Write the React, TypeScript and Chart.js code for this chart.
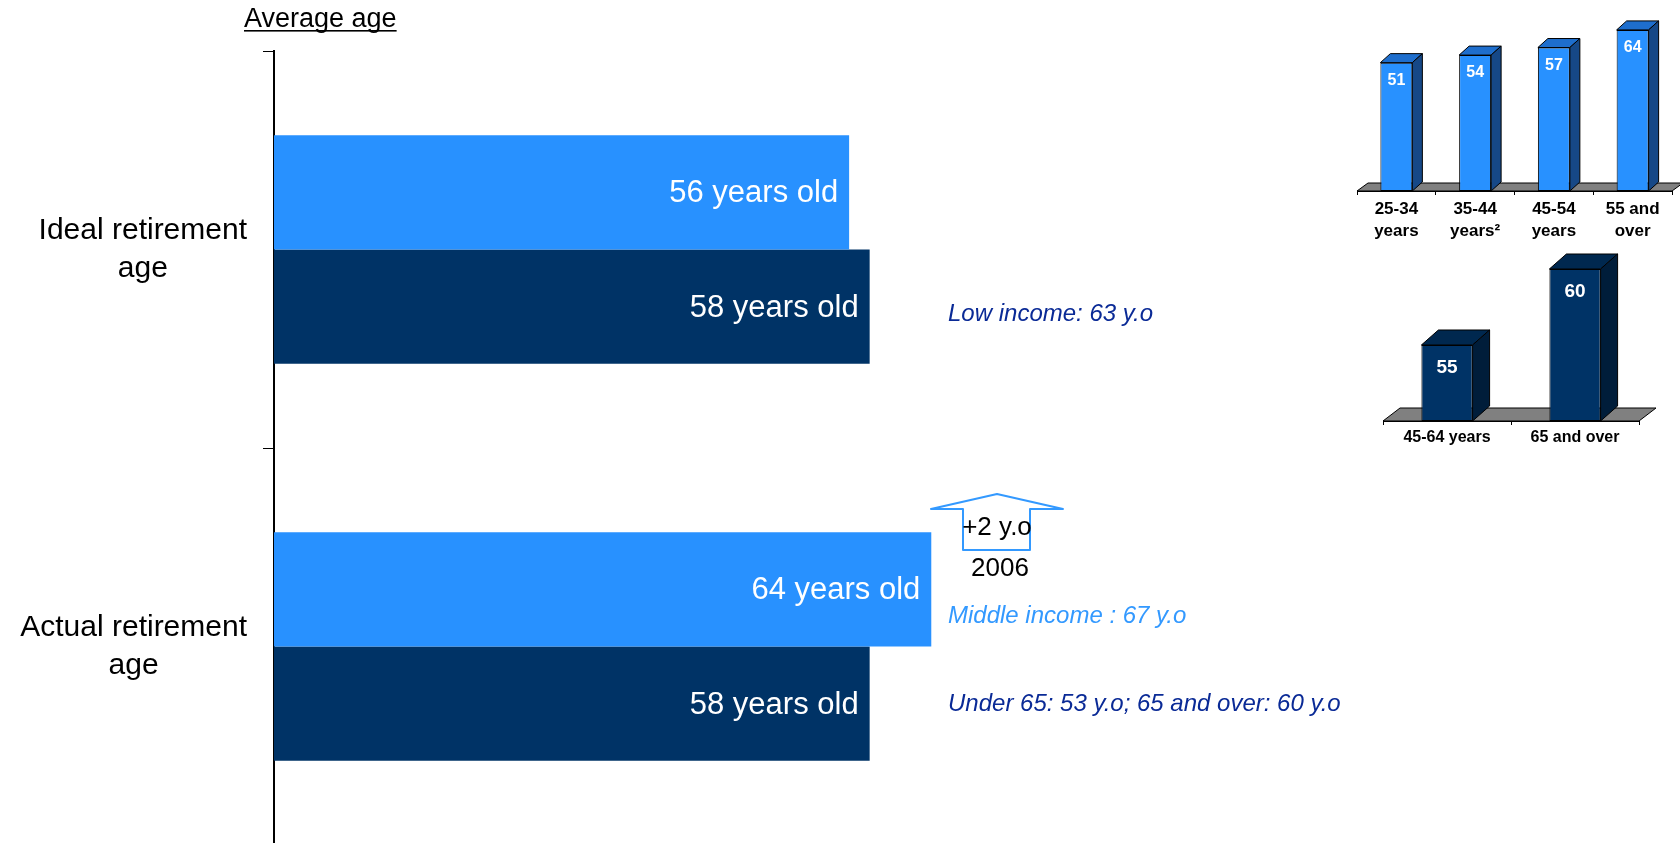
import React, { useEffect, useRef } from "react";
import { Chart, registerables } from "chart.js";

Chart.register(...registerables);

// ---------------- data ----------------
const CATEGORIES: string[][] = [
  ["Ideal retirement", "age"],
  ["Actual retirement", "age"],
];
const SERIES_NAMES = ["Non-retirees", "Retirees"];
const LIGHT_VALUES = [56, 64];
const DARK_VALUES = [58, 58];
const VALUE_SUFFIX = " years old";
const AXIS_TITLE = "Average age";
const NOTES = [
  "Low income: 63 y.o",
  "Middle income : 67 y.o",
  "Under 65: 53 y.o; 65 and over: 60 y.o",
];
const ARROW_TEXT = ["+2 y.o", "2006"];

const AGE_GROUPS: string[][] = [
  ["25-34", "years"],
  ["35-44", "years²"],
  ["45-54", "years"],
  ["55 and", "over"],
];
const AGE_GROUP_VALUES = [51, 54, 57, 64];
const RETIREE_GROUPS = ["45-64 years", "65 and over"];
const RETIREE_GROUP_VALUES = [55, 60];
const RETIREE_AXIS_MIN = 50;

// ---------------- styles ----------------
const FONT = "'Liberation Sans', Arial, sans-serif";
const LIGHT = "#2891FF";
const DARK = "#003366";
const NOTE_DARK = "#0A2A96";
const NOTE_LIGHT = "#3399FF";

Chart.defaults.font.family = FONT;

// ---------------- main chart plugin ----------------
const mainPlugin = {
  id: "mainDecor",
  afterDatasetsDraw(chart: any) {
    const ctx = chart.ctx as CanvasRenderingContext2D;
    ctx.save();
    ctx.font = `31px ${FONT}`;
    ctx.fillStyle = "#fff";
    ctx.textAlign = "right";
    ctx.textBaseline = "alphabetic";
    chart.data.datasets.forEach((ds: any, di: number) => {
      const meta = chart.getDatasetMeta(di);
      meta.data.forEach((el: any, i: number) => {
        ctx.fillText(`${ds.data[i]}${VALUE_SUFFIX}`, el.x - 11, el.y + 10);
      });
    });
    ctx.restore();
  },
  afterDraw(chart: any) {
    const ctx = chart.ctx as CanvasRenderingContext2D;
    const yScale = chart.scales.y;
    const axisX = chart.chartArea.left;
    ctx.save();
    // category labels (block right-aligned, lines centered)
    ctx.font = `30px ${FONT}`;
    ctx.fillStyle = "#000";
    ctx.textAlign = "center";
    ctx.textBaseline = "alphabetic";
    CATEGORIES.forEach((lines, i) => {
      const cy = yScale.getPixelForValue(i);
      const w = Math.max(...lines.map((l) => ctx.measureText(l).width));
      const cx = axisX - 27 - w / 2;
      lines.forEach((l, k) => {
        ctx.fillText(l, cx, cy - 11 + k * 38);
      });
    });

    // axis title underlined
    ctx.font = `27px ${FONT}`;
    ctx.textAlign = "left";
    const tx = 244;
    const ty = 27;
    ctx.fillText(AXIS_TITLE, tx, ty);
    const tw = ctx.measureText(AXIS_TITLE).width;
    ctx.fillRect(tx, ty + 3, tw, 1.6);

    // notes
    ctx.font = `italic 24px ${FONT}`;
    ctx.fillStyle = NOTE_DARK;
    ctx.fillText(NOTES[0], 948, 321);
    ctx.fillStyle = NOTE_LIGHT;
    ctx.fillText(NOTES[1], 948, 623);
    ctx.fillStyle = NOTE_DARK;
    ctx.fillText(NOTES[2], 948, 711);

    // arrow outline
    ctx.beginPath();
    ctx.moveTo(963, 509);
    ctx.lineTo(931, 509);
    ctx.lineTo(997, 494);
    ctx.lineTo(1063, 509);
    ctx.lineTo(1030, 509);
    ctx.lineTo(1030, 550);
    ctx.lineTo(963, 550);
    ctx.closePath();
    ctx.strokeStyle = NOTE_LIGHT;
    ctx.lineWidth = 2;
    ctx.lineJoin = "round";
    ctx.stroke();

    ctx.font = `26px ${FONT}`;
    ctx.fillStyle = "#000";
    ctx.textAlign = "center";
    ctx.fillText(ARROW_TEXT[0], 997, 535);
    ctx.fillText(ARROW_TEXT[1], 1000, 576);
    ctx.restore();
  },
};

// ---------------- 3D bar plugin for small charts ----------------
function make3DPlugin(
  id: string,
  depth: [number, number],
  floorDepth: [number, number],
  topColor: string,
  sideColor: string,
  labelFont: string,
  labelDy: number
) {
  return {
    id,
    beforeDatasetsDraw(chart: any) {
      const ctx = chart.ctx as CanvasRenderingContext2D;
      const { left, right, bottom } = chart.chartArea;
      const [fdx, fdy] = floorDepth;
      ctx.save();
      ctx.beginPath();
      ctx.moveTo(left, bottom);
      ctx.lineTo(right, bottom);
      ctx.lineTo(right + fdx, bottom + fdy);
      ctx.lineTo(left + fdx, bottom + fdy);
      ctx.closePath();
      ctx.fillStyle = "#808080";
      ctx.fill();
      ctx.strokeStyle = "#000";
      ctx.lineWidth = 1;
      ctx.stroke();
      ctx.restore();
    },
    afterDatasetsDraw(chart: any) {
      const ctx = chart.ctx as CanvasRenderingContext2D;
      const [dx, dy] = depth;
      const ds = chart.data.datasets[0];
      const meta = chart.getDatasetMeta(0);
      const bottom = chart.chartArea.bottom;
      ctx.save();
      ctx.strokeStyle = "#000";
      ctx.lineWidth = 1;
      ctx.lineJoin = "miter";
      meta.data.forEach((el: any, i: number) => {
        const { x, y, width } = el.getProps(["x", "y", "width"], true);
        const base = Math.min(el.base, bottom);
        const l = x - width / 2;
        const r = x + width / 2;
        // top face
        ctx.beginPath();
        ctx.moveTo(l, y);
        ctx.lineTo(r, y);
        ctx.lineTo(r + dx, y + dy);
        ctx.lineTo(l + dx, y + dy);
        ctx.closePath();
        ctx.fillStyle = topColor;
        ctx.fill();
        ctx.stroke();
        // side face
        ctx.beginPath();
        ctx.moveTo(r, y);
        ctx.lineTo(r + dx, y + dy);
        ctx.lineTo(r + dx, base + dy);
        ctx.lineTo(r, base);
        ctx.closePath();
        ctx.fillStyle = sideColor;
        ctx.fill();
        ctx.stroke();
        // value label
        ctx.font = labelFont;
        ctx.fillStyle = "#fff";
        ctx.textAlign = "center";
        ctx.textBaseline = "alphabetic";
        ctx.fillText(String(ds.data[i]), x, y + labelDy);
      });
      ctx.restore();
    },
  };
}

export default function App() {
  const mainRef = useRef<HTMLCanvasElement>(null);
  const small1Ref = useRef<HTMLCanvasElement>(null);
  const small2Ref = useRef<HTMLCanvasElement>(null);

  useEffect(() => {
    document.body.style.margin = "0";
    document.body.style.overflow = "hidden";

    const main = new Chart(mainRef.current!, {
      type: "bar",
      data: {
        labels: CATEGORIES.map((c) => c.join(" ")),
        datasets: [
          {
            label: SERIES_NAMES[0],
            data: LIGHT_VALUES,
            backgroundColor: LIGHT,
            borderWidth: 0,
            categoryPercentage: 0.575,
            barPercentage: 1,
          },
          {
            label: SERIES_NAMES[1],
            data: DARK_VALUES,
            backgroundColor: DARK,
            borderWidth: 0,
            categoryPercentage: 0.575,
            barPercentage: 1,
          },
        ],
      },
      options: {
        indexAxis: "y",
        responsive: false,
        animation: false,
        devicePixelRatio: 1,
        layout: { padding: { left: 0, right: 1680 - 1301, top: 51, bottom: 0 } },
        plugins: {
          legend: { display: false },
          tooltip: { enabled: false },
          title: { display: false },
        },
        scales: {
          x: { display: false, min: 0, max: 100 },
          y: {
            z: 1,
            offset: true,
            grid: {
              display: true,
              drawOnChartArea: false,
              drawTicks: true,
              tickLength: 11,
              color: "#000",
              lineWidth: 1,
              offset: true,
            },
            border: { display: true, color: "#000", width: 2 },
            ticks: { display: false },
            afterFit: (s: any) => {
              s.width = 274;
            },
          } as any,
        },
      },
      plugins: [mainPlugin],
    });

    const s1 = new Chart(small1Ref.current!, {
      type: "bar",
      data: {
        labels: AGE_GROUPS as any,
        datasets: [
          {
            label: SERIES_NAMES[0],
            data: AGE_GROUP_VALUES,
            backgroundColor: LIGHT,
            borderColor: "#000",
            borderWidth: 1,
            borderSkipped: false,
            categoryPercentage: 1,
            barPercentage: 0.406,
          },
        ],
      },
      options: {
        responsive: false,
        animation: false,
        devicePixelRatio: 1,
        layout: { padding: { left: 17, right: 8, top: 191 - 70 * 2.517, bottom: 0 } },
        plugins: { legend: { display: false }, tooltip: { enabled: false } },
        scales: {
          y: { display: false, min: 0, max: 70 },
          x: {
            grid: {
              drawOnChartArea: false,
              offset: true,
              tickLength: 4,
              color: "#000",
            },
            border: { display: true, color: "#000", width: 1 },
            ticks: {
              font: { family: FONT, size: 17, weight: "bold", lineHeight: 1.3 },
              color: "#000",
              padding: 3,
              maxRotation: 0,
              autoSkip: false,
            },
            afterFit: (s: any) => {
              s.height = 59;
            },
          } as any,
        },
      },
      plugins: [
        make3DPlugin("bars3d1", [10, -9], [11, -8], "#1E6ECD", "#164887", `bold 16px ${FONT}`, 22),
      ],
    });

    const s2 = new Chart(small2Ref.current!, {
      type: "bar",
      data: {
        labels: RETIREE_GROUPS,
        datasets: [
          {
            label: SERIES_NAMES[1],
            data: RETIREE_GROUP_VALUES,
            base: RETIREE_AXIS_MIN,
            backgroundColor: DARK,
            borderColor: "#000",
            borderWidth: 1,
            borderSkipped: false,
            categoryPercentage: 1,
            barPercentage: 0.4,
          } as any,
        ],
      },
      options: {
        responsive: false,
        animation: false,
        devicePixelRatio: 1,
        layout: { padding: { left: 23, right: 41, top: 171 - 11 * 15.2, bottom: 0 } },
        plugins: { legend: { display: false }, tooltip: { enabled: false } },
        scales: {
          y: { display: false, min: RETIREE_AXIS_MIN, max: 61 },
          x: {
            grid: {
              drawOnChartArea: false,
              offset: true,
              tickLength: 4,
              color: "#000",
            },
            border: { display: true, color: "#000", width: 1 },
            ticks: {
              font: { family: FONT, size: 16, weight: "bold", lineHeight: 1.2 },
              color: "#000",
              padding: 3,
              maxRotation: 0,
              autoSkip: false,
            },
            afterFit: (s: any) => {
              s.height = 39;
            },
          } as any,
        },
      },
      plugins: [
        make3DPlugin("bars3d2", [17, -15], [17, -13], "#00284F", "#001D3A", `bold 19px ${FONT}`, 28),
      ],
    });

    return () => {
      main.destroy();
      s1.destroy();
      s2.destroy();
    };
  }, []);

  return (
    <div style={{ position: "relative", width: 1680, height: 843, overflow: "hidden", background: "#fff" }}>
      <canvas ref={mainRef} width={1680} height={845} style={{ position: "absolute", left: 0, top: 0 }} />
      <canvas ref={small1Ref} width={340} height={250} style={{ position: "absolute", left: 1340, top: 0 }} />
      <canvas ref={small2Ref} width={320} height={210} style={{ position: "absolute", left: 1360, top: 250 }} />
    </div>
  );
}
